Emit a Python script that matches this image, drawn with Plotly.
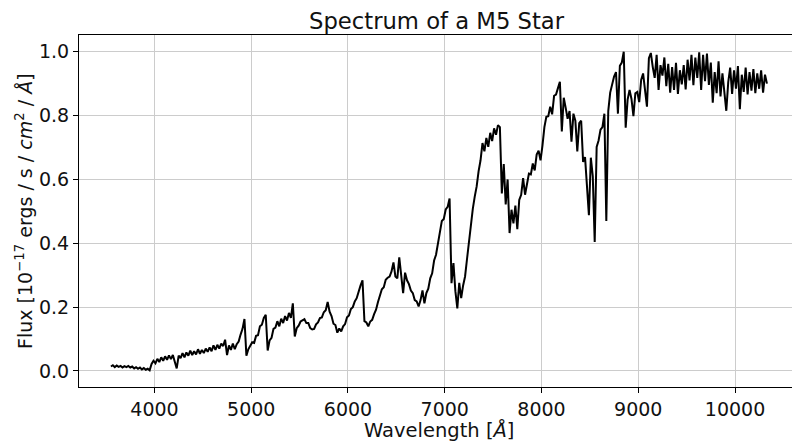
import plotly.graph_objects as go

# Wavelength grid of the spectrum (Angstrom): start and spacing
WAVE_START = 3550
WAVE_STEP = 20

# Normalised flux, one row per 200 A
flux = [
    0.014, 0.018, 0.012, 0.017, 0.013, 0.016, 0.011, 0.015, 0.012, 0.016,   # 3550
    0.011, 0.014, 0.008, 0.012, 0.007, 0.011, 0.005, 0.009, 0.004, 0.007,   # 3750
    0.002, 0.022, 0.032, 0.024, 0.038, 0.028, 0.043, 0.032, 0.046, 0.035,   # 3950
    0.049, 0.037, 0.050, 0.030, 0.008, 0.048, 0.040, 0.056, 0.043, 0.058,   # 4150
    0.048, 0.064, 0.050, 0.062, 0.052, 0.068, 0.054, 0.066, 0.056, 0.070,   # 4350
    0.060, 0.074, 0.062, 0.080, 0.066, 0.082, 0.070, 0.086, 0.078, 0.098,   # 4550
    0.050, 0.080, 0.066, 0.086, 0.068, 0.084, 0.092, 0.114, 0.132, 0.163,   # 4750
    0.048, 0.068, 0.078, 0.090, 0.088, 0.110, 0.112, 0.140, 0.145, 0.166,   # 4950
    0.176, 0.064, 0.096, 0.104, 0.132, 0.136, 0.156, 0.140, 0.164, 0.150,   # 5150
    0.172, 0.158, 0.182, 0.166, 0.212, 0.108, 0.134, 0.142, 0.155, 0.160,   # 5350
    0.162, 0.150, 0.150, 0.134, 0.130, 0.132, 0.146, 0.152, 0.166, 0.168,   # 5550
    0.184, 0.190, 0.216, 0.186, 0.172, 0.148, 0.144, 0.120, 0.133, 0.124,   # 5750
    0.140, 0.147, 0.168, 0.174, 0.194, 0.200, 0.218, 0.228, 0.250, 0.268,   # 5950
    0.284, 0.156, 0.152, 0.140, 0.155, 0.160, 0.178, 0.192, 0.216, 0.236,   # 6150
    0.256, 0.262, 0.286, 0.292, 0.296, 0.312, 0.340, 0.296, 0.290, 0.356,   # 6350
    0.298, 0.244, 0.308, 0.284, 0.272, 0.252, 0.244, 0.222, 0.218, 0.202,   # 6550
    0.222, 0.252, 0.212, 0.244, 0.258, 0.290, 0.306, 0.346, 0.364, 0.404,   # 6750
    0.434, 0.470, 0.476, 0.506, 0.514, 0.540, 0.275, 0.338, 0.250, 0.196,   # 6950
    0.276, 0.228, 0.268, 0.296, 0.350, 0.410, 0.466, 0.508, 0.546, 0.578,   # 7150
    0.626, 0.660, 0.714, 0.688, 0.730, 0.702, 0.746, 0.720, 0.760, 0.740,   # 7350
    0.770, 0.764, 0.556, 0.648, 0.522, 0.600, 0.432, 0.505, 0.462, 0.518,   # 7550
    0.444, 0.536, 0.552, 0.604, 0.552, 0.592, 0.618, 0.616, 0.650, 0.628,   # 7750
    0.678, 0.690, 0.660, 0.706, 0.764, 0.796, 0.798, 0.828, 0.804, 0.862,   # 7950
    0.866, 0.886, 0.906, 0.750, 0.856, 0.824, 0.790, 0.814, 0.718, 0.806,   # 8150
    0.784, 0.688, 0.776, 0.784, 0.655, 0.670, 0.572, 0.488, 0.668, 0.610,   # 8350
    0.404, 0.702, 0.722, 0.756, 0.764, 0.806, 0.470, 0.814, 0.872, 0.896,   # 8550
    0.922, 0.936, 0.806, 0.956, 0.966, 1.000, 0.762, 0.850, 0.880, 0.852,   # 8750
    0.798, 0.870, 0.874, 0.842, 0.912, 0.932, 0.872, 0.828, 0.980, 0.996,   # 8950
    0.952, 0.918, 0.990, 0.880, 0.958, 0.925, 0.982, 0.892, 0.962, 0.872,   # 9150
    0.952, 0.880, 0.965, 0.868, 0.942, 0.898, 0.958, 0.882, 0.975, 0.910,   # 9350
    0.990, 0.895, 0.982, 0.918, 0.998, 0.880, 0.990, 0.908, 0.994, 0.896,   # 9550
    0.966, 0.840, 0.936, 0.870, 0.970, 0.860, 0.932, 0.868, 0.815, 0.905,   # 9750
    0.950, 0.868, 0.942, 0.884, 0.955, 0.820, 0.928, 0.874, 0.950, 0.866,   # 9950
    0.936, 0.878, 0.946, 0.870, 0.932, 0.884, 0.942, 0.872, 0.928, 0.900,   # 10150
]
wavelength = [WAVE_START + WAVE_STEP * i for i in range(len(flux))]

x_ticks = [4000, 5000, 6000, 7000, 8000, 9000, 10000]
y_ticks = [0.0, 0.2, 0.4, 0.6, 0.8, 1.0]

FONT = "DejaVu Sans"
TEXT = "#111111"
GRID = "#cccccc"

fig = go.Figure()
fig.add_trace(go.Scatter(
    x=wavelength, y=flux, mode="lines",
    line=dict(color="black", width=2),
    showlegend=False, hoverinfo="skip",
))

fig.update_layout(
    width=792, height=443,
    margin=dict(l=79, r=0, t=35, b=56),
    paper_bgcolor="white", plot_bgcolor="white",
    font=dict(family=FONT, color=TEXT, size=18),
    showlegend=False,
    annotations=[
        dict(text="Spectrum of a M5 Star", xref="paper", yref="paper",
             x=0.502, y=1.0, yshift=14, showarrow=False,
             xanchor="center", yanchor="middle",
             font=dict(family=FONT, size=22.7, color=TEXT)),
        dict(text="Wavelength [<i>Å</i>]", xref="paper", yref="paper",
             x=0.5056, y=0, yshift=-43, showarrow=False,
             xanchor="center", yanchor="middle",
             font=dict(family=FONT, size=19.5, color=TEXT)),
        dict(text="Flux [10<sup>−17</sup> ergs / s / <i>cm</i><sup>2</sup> / <i>Å</i>]",
             xref="paper", yref="paper", x=0, xshift=-55, y=0.5,
             textangle=-90, showarrow=False,
             xanchor="center", yanchor="middle",
             font=dict(family=FONT, size=19, color=TEXT)),
    ],
)

fig.update_xaxes(
    range=[3220, 10589], tickvals=x_ticks,
    ticktext=[str(v) for v in x_ticks],
    showgrid=True, gridcolor=GRID, gridwidth=1, zeroline=False,
    showline=True, linecolor="black", linewidth=1, mirror=True,
    ticks="outside", ticklen=5, tickcolor="black", tickwidth=1,
    tickfont=dict(family=FONT, size=19, color=TEXT),
)
fig.update_yaxes(
    range=[-0.0502, 1.0524], tickvals=y_ticks,
    ticktext=[f"{v:.1f}" for v in y_ticks],
    showgrid=True, gridcolor=GRID, gridwidth=1, zeroline=False,
    showline=True, linecolor="black", linewidth=1, mirror=False,
    ticks="outside", ticklen=5, tickcolor="black", tickwidth=1,
    tickfont=dict(family=FONT, size=19, color=TEXT),
)

fig.write_html("out.html")
